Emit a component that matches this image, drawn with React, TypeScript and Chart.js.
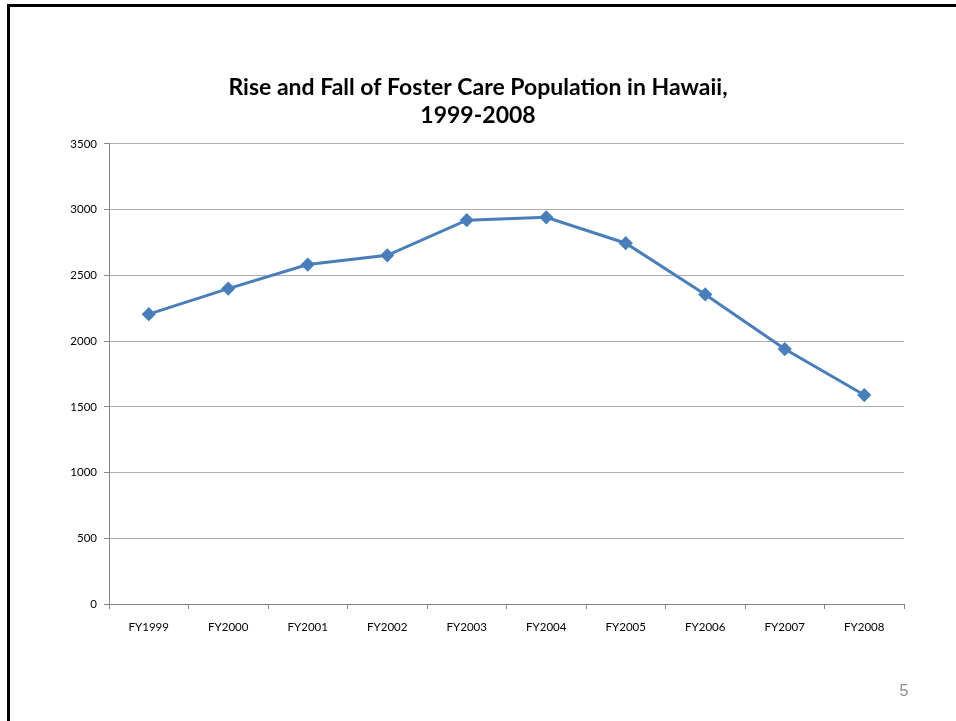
import React, { useEffect, useRef } from "react";
import { Chart, registerables } from "chart.js";

Chart.register(...registerables);

const categories = ["FY1999", "FY2000", "FY2001", "FY2002", "FY2003", "FY2004", "FY2005", "FY2006", "FY2007", "FY2008"];
const population = [2205, 2400, 2583, 2653, 2920, 2942, 2745, 2355, 1940, 1590];
const titleLines = ["Rise and Fall of Foster Care Population in Hawaii,", "1999-2008"];
const pageNumber = "5";

const slidePlugin = {
  id: "slide",
  beforeDraw(chart: any) {
    const ctx = chart.ctx;
    ctx.save();
    ctx.fillStyle = "#ffffff";
    ctx.fillRect(0, 0, chart.width, chart.height);
    ctx.fillStyle = "#000000";
    ctx.fillRect(7, 4, chart.width - 7, 3);
    ctx.fillRect(7, 4, 3, chart.height - 4);
    ctx.restore();
  },
  afterDraw(chart: any) {
    const ctx = chart.ctx;
    ctx.save();
    ctx.fillStyle = "#8c8c8c";
    ctx.font = "16px 'Liberation Sans', Arial, sans-serif";
    ctx.textAlign = "center";
    ctx.textBaseline = "middle";
    ctx.fillText(pageNumber, 904, 692);
    ctx.restore();
  },
};

export default function App() {
  const ref = useRef<HTMLCanvasElement | null>(null);
  useEffect(() => {
    if (!ref.current) return;
    const chart = new Chart(ref.current, {
      type: "line",
      data: {
        labels: categories,
        datasets: [
          {
            data: population,
            borderColor: "#4a7ebb",
            backgroundColor: "#4a7ebb",
            borderWidth: 3,
            pointStyle: "rectRot",
            pointRadius: 5,
            pointHoverRadius: 5,
            pointBackgroundColor: "#4a7ebb",
            pointBorderColor: "#4a7ebb",
            tension: 0,
          },
        ],
      },
      options: {
        responsive: false,
        animation: false,
        layout: { padding: { left: 52, right: 52, top: 0, bottom: 0 } },
        plugins: {
          legend: { display: false },
          tooltip: { enabled: false },
          title: {
            display: true,
            text: titleLines,
            color: "#000000",
            font: { family: "Lato, 'Open Sans', sans-serif", size: 23, weight: "bold", lineHeight: 1.217 },
            padding: { top: 74, bottom: 14 },
          },
        },
        scales: {
          x: {
            offset: true,
            grid: { offset: true, drawOnChartArea: false, drawTicks: true, tickLength: 5, tickColor: "#868686" },
            border: { display: true, color: "#868686" },
            ticks: { color: "#000000", padding: 11, font: { family: "Lato, sans-serif", size: 11.5 }, maxRotation: 0 },
            afterFit(scale: any) {
              scale.height = 117;
            },
          },
          y: {
            min: 0,
            max: 3500,
            ticks: {
              stepSize: 500,
              color: "#000000",
              padding: 7,
              font: { family: "Lato, sans-serif", size: 11.5 },
              callback: (v: any) => String(v),
            },
            grid: { color: "#adadad", tickColor: "#868686", tickLength: 5, drawTicks: true },
            border: { display: true, color: "#868686" },
            afterFit(scale: any) {
              scale.width = 57;
            },
          },
        },
      },
      plugins: [slidePlugin],
    });
    return () => chart.destroy();
  }, []);
  return (
    <div style={{ position: "fixed", left: 0, top: 0, width: 956, height: 721 }}>
      <canvas ref={ref} width={956} height={721} style={{ width: 956, height: 721, display: "block" }} />
    </div>
  );
}
